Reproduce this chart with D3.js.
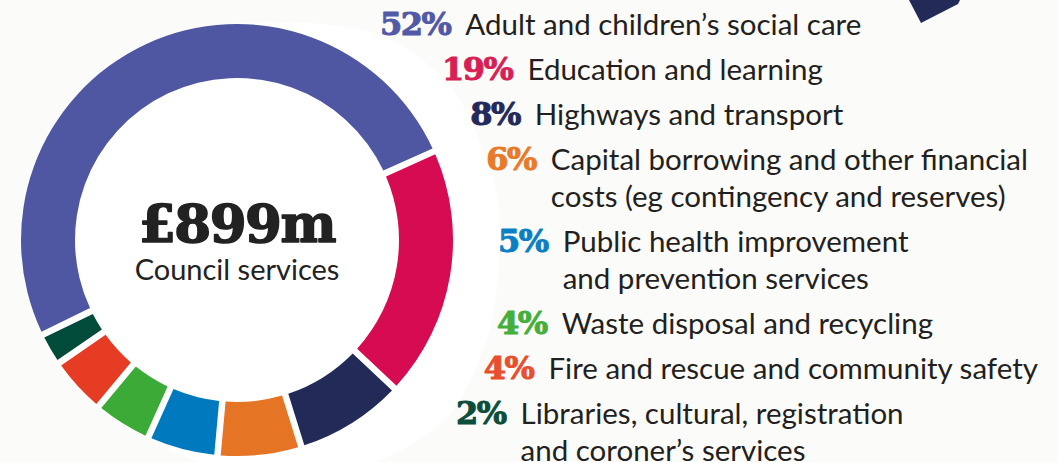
<!DOCTYPE html>
<html><head><meta charset="utf-8">
<script src="https://cdn.jsdelivr.net/npm/d3@7"></script>
<style>html,body{margin:0;padding:0;background:#fbfbf9;} svg{display:block}</style>
</head><body>
<svg id="chart" width="1058" height="462"></svg>
<script>
// ---- data ----
const categories = [
  "Adult and children’s social care",
  "Education and learning",
  "Highways and transport",
  "Capital borrowing and other financial costs (eg contingency and reserves)",
  "Public health improvement and prevention services",
  "Waste disposal and recycling",
  "Fire and rescue and community safety",
  "Libraries, cultural, registration and coroner’s services"
];
const labelLines = [
  ["Adult and children’s social care"],
  ["Education and learning"],
  ["Highways and transport"],
  ["Capital borrowing and other financial", "costs (eg contingency and reserves)"],
  ["Public health improvement", "and prevention services"],
  ["Waste disposal and recycling"],
  ["Fire and rescue and community safety"],
  ["Libraries, cultural, registration", "and coroner’s services"]
];
const values = [52, 19, 8, 6, 5, 4, 4, 2];
const sliceColors = ["#4f57a2", "#d60b52", "#222a58", "#e67425", "#0079bf", "#3caa36", "#e63c23", "#004b39"];
const pctColors = ["#5259a6", "#d81f55", "#23295a", "#e87a2a", "#0b7fc3", "#46ae3a", "#e94e2e", "#0d4d3b"];
const totalLabel = "£899m";
const subLabel = "Council services";

// ---- layout (not data) ----
const cx = 237, cy = 240, rOuter = 216, rInner = 162;
const legendRadius = [259, 267, 265, 262, 261, 273, 278, 279];
const svg = d3.select("#chart");

// white blob backdrop (hugs donut on the left, bulges to the right)
const blobPts = [[21,240],[50,132],[120,58],[240,23],[370,32],[452,88],[498,200],[492,320],[452,412],[385,458],[300,478],[200,462],[118,420],[50,345]];
svg.append("path")
  .attr("d", d3.line().curve(d3.curveCardinalClosed.tension(0.2))(blobPts))
  .attr("fill", "#ffffff");

// decorative navy piece top right
svg.append("path")
  .attr("d", "M909,0 L960,0 L958,4 L921,23 Z")
  .attr("fill", "#222a58");

const pie = d3.pie().sort(null).value(d => d)
  .startAngle(-116 * Math.PI / 180)
  .endAngle(244 * Math.PI / 180)
  .padAngle(0.03);
const arc = d3.arc().innerRadius(rInner).outerRadius(rOuter).padRadius(rOuter);

const g = svg.append("g").attr("transform", `translate(${cx},${cy})`);
g.selectAll("path.slice").data(pie(values)).join("path")
  .attr("class", "slice")
  .attr("d", arc)
  .attr("fill", (d, i) => sliceColors[i]);

g.append("text").text(totalLabel)
  .attr("x", 0).attr("y", 2)
  .attr("text-anchor", "middle")
  .attr("font-family", "DejaVu Serif")
  .attr("font-weight", 900)
  .attr("font-size", 53)
  .attr("letter-spacing", -1.5)
  .attr("fill", "#222222")
  .attr("stroke", "#222222")
  .attr("stroke-width", 1.6)
  .attr("stroke-linejoin", "round");
g.append("text").text(subLabel)
  .attr("x", 0).attr("y", 40)
  .attr("text-anchor", "middle")
  .attr("font-family", "Lato")
  .attr("font-size", 29)
  .attr("fill", "#222222");

// legend
let baseline = 35;
const legend = svg.append("g");
values.forEach((v, i) => {
  const ymid = baseline - 11;
  const R = legendRadius[i];
  const px = cx + Math.sqrt(R * R - (ymid - cy) * (ymid - cy));
  const pt = legend.append("text").text(v + "%")
    .attr("x", px).attr("y", baseline)
    .attr("font-family", "DejaVu Serif")
    .attr("font-weight", 900)
    .attr("font-size", 32)
    .attr("letter-spacing", -1.5)
    .attr("fill", pctColors[i])
    .attr("stroke", pctColors[i])
    .attr("stroke-width", 1)
    .attr("stroke-linejoin", "round");
  const pw = pt.node().getComputedTextLength();
  const lx = px + pw + 15;
  labelLines[i].forEach((line, j) => {
    legend.append("text").text(line)
      .attr("x", lx).attr("y", baseline + j * 37)
      .attr("font-family", "Lato")
      .attr("font-size", 29.5)
      .attr("fill", "#231f20");
  });
  baseline += (labelLines[i].length - 1) * 37 + 45;
});
</script>
</body></html>
